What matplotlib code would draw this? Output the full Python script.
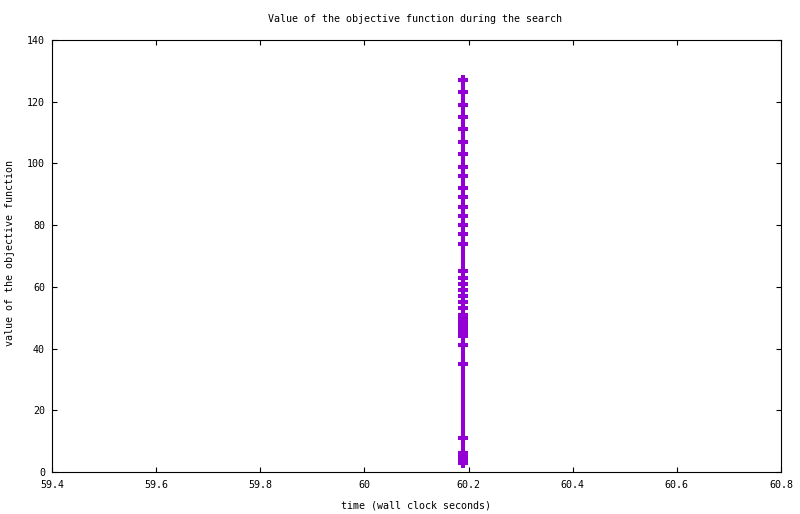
import matplotlib
matplotlib.use('Agg')
import matplotlib.pyplot as plt

# objective value (all at the same wall clock time)
objective = [127, 123, 119, 115, 111, 107, 103, 99, 96, 92, 89, 86, 83, 80,
             77, 74, 65, 63, 61, 59, 57, 55, 53, 51, 50, 49, 48, 47, 46, 45,
             44, 41, 35, 11, 6, 5, 4, 3]
times = [60.19] * len(objective)

x_ticks = [59.4, 59.6, 59.8, 60, 60.2, 60.4, 60.6, 60.8]
x_labels = ['59.4', '59.6', '59.8', '60', '60.2', '60.4', '60.6', '60.8']
y_ticks = [0, 20, 40, 60, 80, 100, 120, 140]

plt.rcParams['font.family'] = 'DejaVu Sans Mono'
plt.rcParams['font.size'] = 7.2

fig = plt.figure(figsize=(8, 5.14), dpi=100)
ax = fig.add_axes([52/800, 1 - 472/514, (781 - 52)/800, (472 - 40)/514])

ax.plot(times, objective, color='#9400d3', linewidth=2.9,
        marker='+', markersize=7.5, markeredgewidth=2.9)

ax.set_xlim(59.4, 60.8)
ax.set_ylim(0, 140)
ax.set_xticks(x_ticks)
ax.set_xticklabels(x_labels)
ax.set_yticks(y_ticks)
ax.tick_params(direction='in', length=3.6, width=0.8, top=True, right=True,
               labelsize=7.2, color='black')
ax.tick_params(axis='x', pad=6)
ax.tick_params(axis='y', pad=5)
for s in ax.spines.values():
    s.set_linewidth(0.8)

fig.text(415/800, 1 - 19/514, 'Value of the objective function during the search',
         ha='center', va='center')
fig.text(416/800, 1 - 505/514, 'time (wall clock seconds)', ha='center', va='center')
fig.text(10/800, 1 - 253/514, 'value of the objective function', ha='center',
         va='center', rotation=90)

fig.savefig('out.png', dpi=100)
